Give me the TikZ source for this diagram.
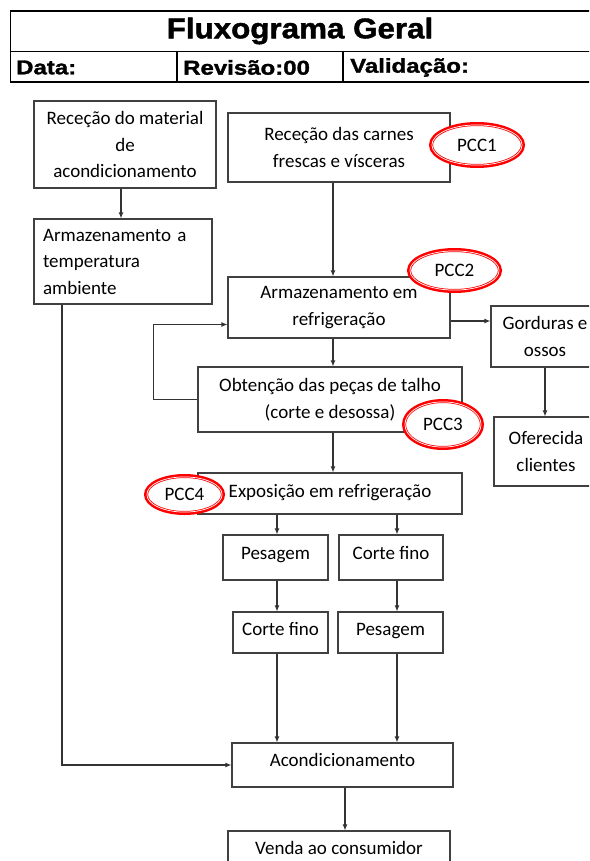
\documentclass[tikz,border=0pt]{standalone}
\usepackage{fontspec}
\setmainfont{Carlito}
\newfontfamily\hdrT{Liberation Sans}[FakeStretch=1.1,FakeBold=1.5]
\newfontfamily\hdrR{Liberation Sans}[FakeStretch=1.2,FakeBold=1.5]
\usetikzlibrary{arrows.meta,shapes.geometric}
\begin{document}
\begin{tikzpicture}[x=1pt,y=-1pt,
  box/.style={draw=black!75, line width=1.1pt, fill=white, align=center, inner sep=0pt,
    font=\fontsize{19}{26.5}\selectfont},
  one/.style={text height=13pt, text depth=#1},
  arr/.style={draw=black!80, line width=1.1pt, -{Latex[length=6pt,width=5pt]}},
  hdr/.style={line width=1.4pt, draw=black},
  pcc/.style={ellipse, draw=red, line width=4pt, fill=white, inner sep=0pt,
    font=\fontsize{19}{22}\selectfont},
  pccin/.style={draw=white, line width=0.7pt}
]
\clip (0,0) rectangle (589,861);
% header
\draw[hdr] (10.5,11) rectangle (620,82);
\draw[hdr] (10.5,51.5) -- (620,51.5);
\draw[hdr] (177,51.5) -- (177,82);
\draw[hdr] (343,51.5) -- (343,82);
\node (title) at (300,31) {\hdrT\bfseries\fontsize{28.5}{30}\selectfont Fluxograma Geral};
\node[anchor=west, inner sep=0pt] (data) at (16,67.5) {\hdrR\bfseries\fontsize{20}{21}\selectfont Data:};
\node[anchor=west, inner sep=0pt] (rev) at (183,67.5) {\hdrR\bfseries\fontsize{20}{21}\selectfont Revisão:00};
\node[anchor=west, inner sep=0pt] (val) at (350,67.5) {\hdrR\bfseries\fontsize{20}{21}\selectfont Validação:};

% boxes
\node[box, minimum width=182pt, minimum height=87pt] (A) at (125,144.5) {Receção do material\\de\\acondicionamento};
\node[box, align=left, text width=160pt, inner xsep=9pt, minimum height=85pt] (B) at (123,261.5) {Armazenamento a\\temperatura\\ambiente};
\node[box, minimum width=222pt, minimum height=69pt] (C) at (339,147.5) {Receção das carnes\\frescas e vísceras};
\node[box, minimum width=222pt, minimum height=61pt] (D) at (339,307.5) {Armazenamento em\\refrigeração};
\node[box, minimum width=108pt, minimum height=61pt] (E) at (545,336.5) {Gorduras e\\ossos};
\node[box, minimum width=104pt, minimum height=69pt] (F) at (546,451.5) {Oferecida\\clientes};
\node[box, minimum width=264pt, minimum height=65pt] (G) at (330,399.5) {Obtenção das peças de talho\\(corte e desossa)};
\node[box, one=6pt, minimum width=264pt, minimum height=41pt] (H) at (330,493.5) {Exposição em refrigeração};
\node[box, one=10pt, minimum width=105pt, minimum height=45pt] (P1) at (275.5,557.5) {Pesagem};
\node[box, one=10pt, minimum width=104pt, minimum height=45pt] (CF1) at (391,557.5) {Corte fino};
\node[box, one=8pt, minimum width=95pt, minimum height=41pt] (CF2) at (280.5,632.5) {Corte fino};
\node[box, one=8pt, minimum width=105pt, minimum height=41pt] (P2) at (390.5,632.5) {Pesagem};
\node[box, one=11pt, minimum width=221pt, minimum height=44pt] (AC) at (342.5,765) {Acondicionamento};
\node[box, one=10pt, minimum width=222pt, minimum height=44pt] (V) at (339,853) {Venda ao consumidor};

% connectors
\draw[arr] ([xshift=-4pt]A.south) -- ([xshift=-2pt]B.north);
\draw[arr] ([xshift=-61pt]B.south) |- (AC.west);
\draw[arr] ([xshift=-6pt]C.south) -- ([xshift=-6pt]D.north);
\draw[arr] ([xshift=-6pt]D.south) -- ([xshift=3pt]G.north);
\draw[arr] ([xshift=3pt]G.south) -- ([xshift=3pt]H.north);
\draw[arr] (G.west) -- ++(-44,0) |- ([yshift=-17pt]D.west);
\draw[arr] ([yshift=-13.5pt]D.east) -- ([yshift=-13.5pt]D.east -| E.west);
\draw[arr] (E.south) -- (E.south |- F.north);
\draw[arr] ([xshift=1.5pt]P1.north |- H.south) -- ([xshift=1.5pt]P1.north);
\draw[arr] ([xshift=6pt]CF1.north |- H.south) -- ([xshift=6pt]CF1.north);
\draw[arr] ([xshift=1.5pt]P1.south) -- ([xshift=1.5pt]P1.south |- CF2.north);
\draw[arr] ([xshift=6pt]CF1.south) -- ([xshift=6pt]CF1.south |- P2.north);
\draw[arr] ([xshift=1.5pt]P1.south |- CF2.south) -- ([xshift=1.5pt]P1.south |- AC.north);
\draw[arr] ([xshift=6pt]CF1.south |- P2.south) -- ([xshift=6pt]CF1.south |- AC.north);
\draw[arr] ([xshift=2.5pt]AC.south) -- ([xshift=2.5pt]AC.south |- V.north);

% PCC ellipses
\node[pcc, minimum width=92pt, minimum height=42pt] (p1) at (477,145) {PCC1};
\draw[pccin] (p1.center) ellipse [x radius=45.1, y radius=20.1];
\node[pcc, minimum width=91pt, minimum height=41pt] (p2) at (454.5,270.5) {PCC2};
\draw[pccin] (p2.center) ellipse [x radius=44.6, y radius=19.6];
\node[pcc, minimum width=78pt, minimum height=47pt] (p3) at (443,424.5) {PCC3};
\draw[pccin] (p3.center) ellipse [x radius=38.1, y radius=22.6];
\node[pcc, minimum width=77pt, minimum height=37pt] (p4) at (184.5,494.5) {PCC4};
\draw[pccin] (p4.center) ellipse [x radius=37.6, y radius=17.6];
\end{tikzpicture}
\end{document}
